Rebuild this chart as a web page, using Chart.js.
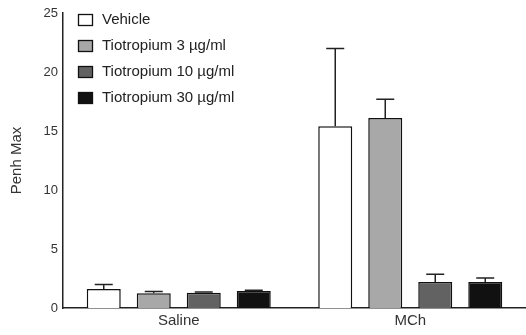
<!DOCTYPE html>
<html><head><meta charset="utf-8">
<script src="https://cdn.jsdelivr.net/npm/chart.js@4/dist/chart.umd.min.js"></script>
<style>html,body{margin:0;padding:0;background:#fff}#wrap{width:526px;height:335px}</style>
</head><body><div id="wrap"><canvas id="c" width="526" height="335"></canvas></div>
<script>
const categories = ["Saline", "MCh"];
const seriesLabels = ["Vehicle", "Tiotropium 3 \u00b5g/ml", "Tiotropium 10 \u00b5g/ml", "Tiotropium 30 \u00b5g/ml"];
const vehicle = [1.6, 15.4];
const tio3 = [1.25, 16.1];
const tio10 = [1.3, 2.2];
const tio30 = [1.45, 2.2];
const vehicleErr = [0.4, 6.6];
const tio3Err = [0.15, 1.6];
const tio10Err = [0.05, 0.65];
const tio30Err = [0.05, 0.35];
const yTicks = [0, 5, 10, 15, 20, 25];
const fills = ["#ffffff", "#a8a8a8", "#626262", "#111111"];

const values = [vehicle, tio3, tio10, tio30];
const errs = [vehicleErr, tio3Err, tio10Err, tio30Err];
const FONT = '"Liberation Sans", Arial, sans-serif';

const errorBars = {
  id: 'errorBars',
  afterDatasetsDraw(chart) {
    const ctx = chart.ctx, y = chart.scales.y;
    ctx.save();
    ctx.strokeStyle = '#222'; ctx.lineWidth = 1.5;
    chart.data.datasets.forEach((ds, i) => {
      const meta = chart.getDatasetMeta(i);
      meta.data.forEach((bar, j) => {
        const top = y.getPixelForValue(ds.data[j] + errs[i][j]);
        const base = bar.y;
        ctx.beginPath();
        ctx.moveTo(bar.x, base); ctx.lineTo(bar.x, top);
        ctx.moveTo(bar.x - 9, top); ctx.lineTo(bar.x + 9, top);
        ctx.stroke();
      });
    });
    ctx.restore();
  }
};

const legendPlug = {
  id: 'legendPlug',
  afterDraw(chart) {
    const ctx = chart.ctx;
    ctx.save();
    ctx.font = '15px ' + FONT;
    ctx.textBaseline = 'middle';
    chart.data.datasets.forEach((ds, i) => {
      const cy = 20 + i * 26;
      ctx.fillStyle = ds.backgroundColor;
      ctx.fillRect(78.5, cy - 5.5, 14, 11);
      ctx.strokeStyle = '#111'; ctx.lineWidth = 1.3;
      ctx.strokeRect(78.5, cy - 5.5, 14, 11);
      ctx.fillStyle = '#222';
      ctx.fillText(ds.label, 102, cy);
    });
    ctx.restore();
  }
};

new Chart(document.getElementById('c'), {
  type: 'bar',
  data: {
    labels: categories,
    datasets: seriesLabels.map((l, i) => ({
      label: l, data: values[i], backgroundColor: fills[i],
      borderColor: '#111', borderWidth: 1.5,
      barPercentage: 0.68, categoryPercentage: 0.864
    }))
  },
  options: {
    responsive: false, animation: false,
    layout: { padding: { top: 13, right: 0, left: 0, bottom: 0 } },
    plugins: { legend: { display: false }, tooltip: { enabled: false } },
    scales: {
      x: {
        grid: { display: false, drawTicks: false },
        border: { color: '#222', width: 1.5 },
        ticks: { color: '#333', font: { size: 15, family: FONT }, padding: 4 },
        afterFit(s) { s.height = 27; }
      },
      y: {
        min: 0, max: 25,
        afterBuildTicks(s) { s.ticks = yTicks.map(v => ({ value: v })); },
        grid: { display: false, drawTicks: true, tickLength: 4, tickColor: '#222', tickWidth: 1.5 },
        border: { color: '#222', width: 1.5 },
        ticks: { color: '#333', font: { size: 13, family: FONT }, padding: 1 },
        title: { display: true, text: 'Penh Max', color: '#333', font: { size: 15, family: FONT }, padding: { top: 8, bottom: 0 } },
        afterFit(s) { s.width = 63; }
      }
    }
  },
  plugins: [errorBars, legendPlug]
});
</script></body></html>
